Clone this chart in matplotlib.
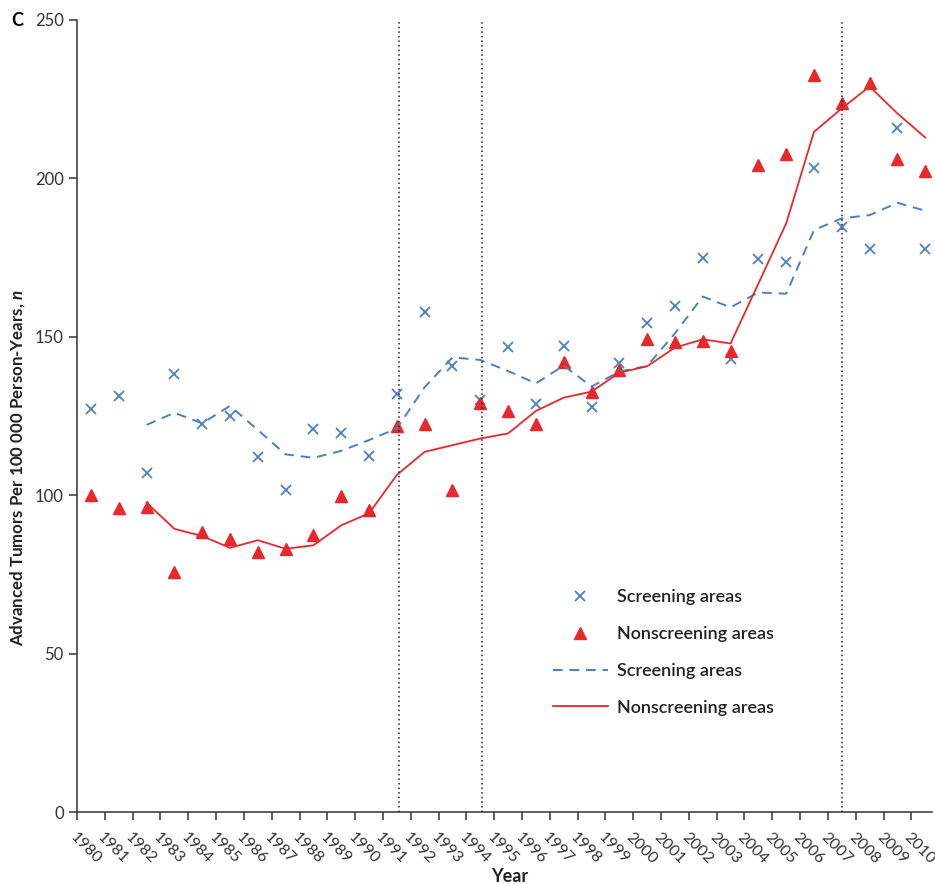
import numpy as np
import matplotlib
matplotlib.use("Agg")
import matplotlib.pyplot as plt

plt.rcParams['font.family'] = ['Lato', 'DejaVu Sans']
plt.rcParams['mathtext.fontset'] = 'custom'
plt.rcParams['mathtext.bfit'] = 'Lato:italic:bold'

# Datos
years = np.arange(1980, 2011)

screening_pts = [127.1, 131.3, 107.1, 138.3, 122.6, 124.9, 112.2, 101.6, 120.9, 119.6,
                 112.4, 131.8, 157.8, 140.8, 130.2, 146.7, 128.9, 147.0, 127.9, 141.6,
                 154.5, 159.7, 174.8, 143.1, 174.5, 173.5, 203.4, 184.6, 177.6, 216.0, 177.6]
nonscreening_pts = [100.1, 96.1, 96.3, 75.7, 88.5, 86.1, 82.1, 83.1, 87.6, 99.6,
                    95.2, 121.8, 122.5, 101.5, 129.2, 126.6, 122.5, 142.1, 132.5, 139.5,
                    149.2, 148.5, 148.8, 145.6, 204.1, 207.6, 232.5, 223.9, 230.2, 206.1, 202.4]

# medias moviles (desde 1982)
line_years = np.arange(1982, 2011)
screening_line = [122.2, 126.0, 122.7, 128.2, 120.6, 112.9, 111.8, 114.0, 117.4, 121.1,
                  134.1, 143.5, 142.7, 139.2, 135.3, 140.9, 134.3, 139.0, 140.8, 151.1,
                  162.7, 159.3, 164.0, 163.6, 183.7, 187.4, 188.4, 192.3, 189.8]
nonscreening_line = [97.6, 89.4, 87.1, 83.4, 85.8, 83.1, 84.2, 90.5, 94.3, 106.4,
                     113.7, 115.8, 117.9, 119.5, 126.6, 130.8, 132.7, 138.7, 140.7, 146.6,
                     149.2, 147.9, 166.8, 185.8, 214.7, 222.1, 229.0, 220.5, 212.9]

vlines = [1991.58, 1994.56, 2007.52]

blue = '#4a80c4'
red = '#e8282b'

fig = plt.figure(figsize=(9.35, 8.84), dpi=100)
ax = fig.add_axes([0.0824, 0.0814, 0.9146, 0.896])

x_pts = years + 0.5
x_line = line_years + 0.5

ax.plot(x_pts, screening_pts, linestyle='none', marker='x', color=blue,
        markersize=7, markeredgewidth=1.3, label='Screening areas')
ax.plot(x_pts, nonscreening_pts, linestyle='none', marker='^', color=red,
        markersize=8, label='Nonscreening areas')
ax.plot(x_line, screening_line, color=blue, linestyle=(0, (5, 3.5)), linewidth=1.4,
        label='Screening areas')
ax.plot(x_line, nonscreening_line, color=red, linewidth=1.3, label='Nonscreening areas')

for v in vlines:
    ax.axvline(v, color='#222222', linestyle=(0, (1, 2)), linewidth=1.1)

ax.set_xlim(1980, 2010.75)
ax.set_ylim(0, 250)
ax.set_xticks(years)
ax.set_xticklabels([str(y) for y in years], rotation=-45, ha='left', va='top',
                   rotation_mode='anchor', fontsize=11.5, color='#333333')
ax.set_yticks([0, 50, 100, 150, 200, 250])
ax.tick_params(axis='y', labelsize=12, colors='#333333', length=6, width=1.1)
ax.tick_params(axis='x', length=6, width=1.1, colors='#333333', pad=7)

ax.spines['top'].set_visible(False)
ax.spines['right'].set_visible(False)
ax.spines['left'].set_color('#333333')
ax.spines['bottom'].set_color('#333333')
ax.spines['left'].set_linewidth(1.1)
ax.spines['bottom'].set_linewidth(1.1)

ax.set_xlabel('Year', fontsize=13, fontweight='bold', color='#222222')
ax.xaxis.set_label_coords(0.506, -0.071)
ax.set_ylabel('Advanced Tumors Per 100 000 Person-Years, $\\mathbfit{n}$',
              fontsize=12.2, fontweight='bold', color='#222222')
ax.yaxis.set_label_coords(-0.059, 0.435)

fig.text(0.012, 0.977, 'C', fontsize=13, fontweight='bold', va='center', ha='left')

leg = ax.legend(loc='upper left', bbox_to_anchor=(0.557, 0.281), frameon=False,
                handlelength=3.0, handletextpad=0.55, labelspacing=1.15,
                borderaxespad=0, borderpad=0, prop={'weight': 'semibold', 'size': 13})
for t in leg.get_texts():
    t.set_color('#222222')

fig.savefig('out.png', dpi=100)
